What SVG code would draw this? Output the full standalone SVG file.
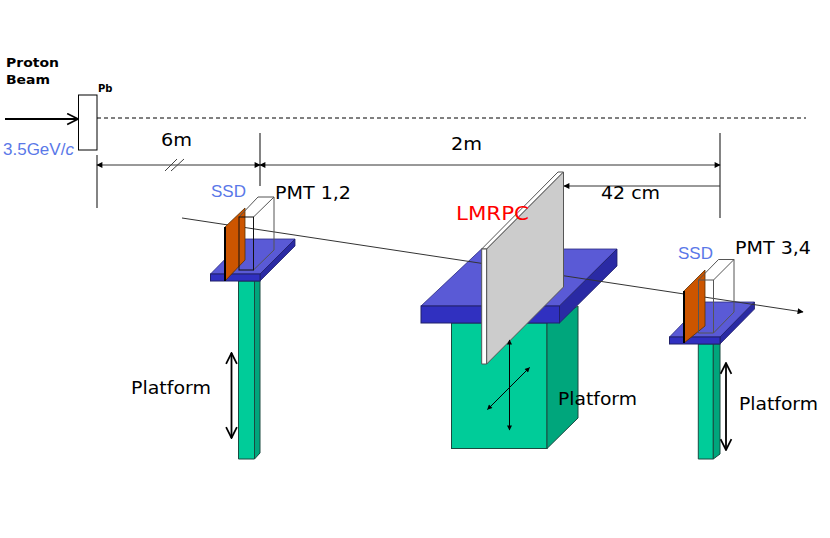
<svg xmlns="http://www.w3.org/2000/svg" width="830" height="538" viewBox="0 0 830 538">
<style>
text{font-family:"DejaVu Sans",Verdana,sans-serif;fill:#000}
.l{font-size:18px}
.b{font-family:"Liberation Sans",Arial,sans-serif;fill:#5a78e8;font-size:17px}
.top{fill:#5a5ad6;stroke:#2a2a80;stroke-width:.8}
.front{fill:#3030c0;stroke:#20206a;stroke-width:1}
.side{fill:#2a2aa4;stroke:#20206a;stroke-width:.8}
.col{fill:#00cc99;stroke:#1a4a40;stroke-width:1}
.cols{fill:#00a67c;stroke:#1a4a40;stroke-width:1}
.ssd{fill:#cc5500;stroke:#5a3000;stroke-width:.8}
.pmt{fill:none;stroke:#555;stroke-width:1}
.dim{fill:none;stroke:#333;stroke-width:1}
.fine{fill:none;stroke:#333;stroke-width:1.2}
.open{fill:none;stroke:#000;stroke-width:1.8}
</style>
<defs>
<marker id="tri" viewBox="0 0 10 10" refX="9" refY="5" markerWidth="7" markerHeight="6" markerUnits="userSpaceOnUse" orient="auto-start-reverse"><path d="M0 0L10 5L0 10Z" fill="#000"/></marker>
<marker id="arr" viewBox="0 0 12 12" refX="11" refY="6" markerWidth="13" markerHeight="13" markerUnits="userSpaceOnUse" orient="auto-start-reverse"><path d="M1 1L11 6L1 11" fill="none" stroke="#000" stroke-width="1.6"/></marker>
<marker id="slim" viewBox="0 0 10 10" refX="9" refY="5" markerWidth="9" markerHeight="5" markerUnits="userSpaceOnUse" orient="auto-start-reverse"><path d="M0 0L10 5L0 10Z" fill="#000"/></marker>
</defs>

<g id="platform-left">
<polygon class="col" points="238.500,281 254.500,281 254.500,459 238.500,459"/>
<polygon class="cols" points="254.500,281 260,281 260,453 254.500,459"/>
<polygon class="top" points="210.500,274 245,239 295,239 260,274"/>
<polygon class="side" points="260,274 295,239 295,246 260,281"/>
<rect class="front" x="210.500" y="274" width="49.500" height="7"/>
</g>

<g id="platform-right">
<polygon class="col" points="698.300,344 713.300,344 713.300,459 698.300,459"/>
<polygon class="cols" points="713.300,344 720,344 720,454 713.300,459"/>
<polygon class="top" points="669.500,337 703.500,302 754.500,302 720,337"/>
<polygon class="side" points="720,337 754.500,302 754.500,309 720,344"/>
<rect class="front" x="669.500" y="337" width="50.500" height="7"/>
</g>

<g id="platform-centre">
<rect class="col" x="451.500" y="323" width="95.500" height="125.500"/>
<polygon class="cols" points="547,323 578,306 578,418 547,448.500"/>
<polygon class="top" points="421,306 481.500,249 617,249 559.500,306"/>
<polygon class="side" points="559.500,306 617,249 617,266 559.500,323"/>
<rect class="front" x="421" y="306" width="138.500" height="17"/>
</g>

<g id="connectors">
<path d="M182 218L803 312" fill="none" stroke="#333" stroke-width="1" marker-end="url(#tri)"/>
<path d="M97 118H806" fill="none" stroke="#000" stroke-width="1" stroke-dasharray="4 3"/>
<path d="M5 119H78" fill="none" stroke="#000" stroke-width="1.8" marker-end="url(#arr)"/>
<path class="fine" d="M97 155V208M260 133V186M720 133V218"/>
<path class="dim" d="M97 165H260" marker-start="url(#tri)" marker-end="url(#tri)"/>
<path class="dim" d="M260 165H720" marker-start="url(#tri)" marker-end="url(#tri)"/>
<path class="dim" d="M564 186H720" marker-start="url(#tri)"/>
<path d="M165 171L177 159M171 171L184 159" fill="none" stroke="#444" stroke-width="1"/>
<path class="open" d="M231.500 353V438" marker-start="url(#arr)" marker-end="url(#arr)"/>
<path class="open" d="M726 363V450" marker-start="url(#arr)" marker-end="url(#arr)"/>
</g>

<g id="pb-target"><rect x="78.500" y="95" width="18.500" height="55" fill="#fff" stroke="#000" stroke-width="1"/></g>

<g id="lmrpc">
<polygon points="481.700,249 558,172 563.500,172 486.700,249" fill="#fff" stroke="#555" stroke-width="1"/>
<polygon points="481.700,249 486.700,249 486.700,364 481.700,364" fill="#fff" stroke="#555" stroke-width="1"/>
<polygon points="486.700,249 563.500,172 563.500,287 486.700,364" fill="#cccccc" stroke="#555" stroke-width="1"/>
</g>

<g id="centre-arrows">
<path d="M509.500 340V430" fill="none" stroke="#000" stroke-width="1" marker-start="url(#slim)" marker-end="url(#slim)"/>
<path d="M487.500 409.500L529.500 367.500" fill="none" stroke="#000" stroke-width="1" marker-start="url(#slim)" marker-end="url(#slim)"/>
</g>

<g id="pmt-ssd-left">
<polygon points="225,227 245,208 245,260 225,281" class="ssd"/>
<path d="M225 227V281" stroke="#000" stroke-width="2" fill="none"/>
<path class="pmt" d="M239 217L258 197H274V250L253.500 270M253.500 217L274 197"/>
<rect x="239" y="217" width="14.500" height="53" fill="none" stroke="#111" stroke-width="1"/>
</g>

<g id="pmt-ssd-right">
<polygon points="684,291 705,270 705,326 684,343" class="ssd"/>
<path d="M684 291V343" stroke="#000" stroke-width="2" fill="none"/>
<path class="pmt" d="M698.500 280L718.500 259.500H734V312L713.500 333M713.500 280L734 259.500M713.500 280V333M698.500 280H713.500M698.500 280V333H713.500"/>
</g>

<g id="labels">
<text x="6" y="67" font-size="13" font-weight="bold" textLength="53" lengthAdjust="spacingAndGlyphs">Proton</text>
<text x="6" y="84" font-size="13" font-weight="bold" textLength="44" lengthAdjust="spacingAndGlyphs">Beam</text>
<text x="98" y="92" font-size="10" font-weight="bold">Pb</text>
<text class="b" x="3" y="155">3.5GeV/<tspan font-style="italic">c</tspan></text>
<text class="l" x="161" y="146" font-size="19" textLength="31" lengthAdjust="spacingAndGlyphs">6m</text>
<text class="l" x="451" y="150" textLength="31" lengthAdjust="spacingAndGlyphs">2m</text>
<text class="b" x="211" y="197">SSD</text>
<text class="l" x="275" y="199" textLength="76" lengthAdjust="spacingAndGlyphs">PMT 1,2</text>
<text x="456" y="220" font-size="20" style="fill:#ff0000" textLength="73" lengthAdjust="spacingAndGlyphs">LMRPC</text>
<text class="l" x="601" y="199" textLength="59" lengthAdjust="spacingAndGlyphs">42 cm</text>
<text class="l" x="735" y="254" textLength="76" lengthAdjust="spacingAndGlyphs">PMT 3,4</text>
<text class="b" x="678" y="259">SSD</text>
<text class="l" x="131" y="394" textLength="80" lengthAdjust="spacingAndGlyphs">Platform</text>
<text class="l" x="558" y="405" textLength="79" lengthAdjust="spacingAndGlyphs">Platform</text>
<text class="l" x="739" y="410" textLength="79" lengthAdjust="spacingAndGlyphs">Platform</text>
</g>
</svg>
